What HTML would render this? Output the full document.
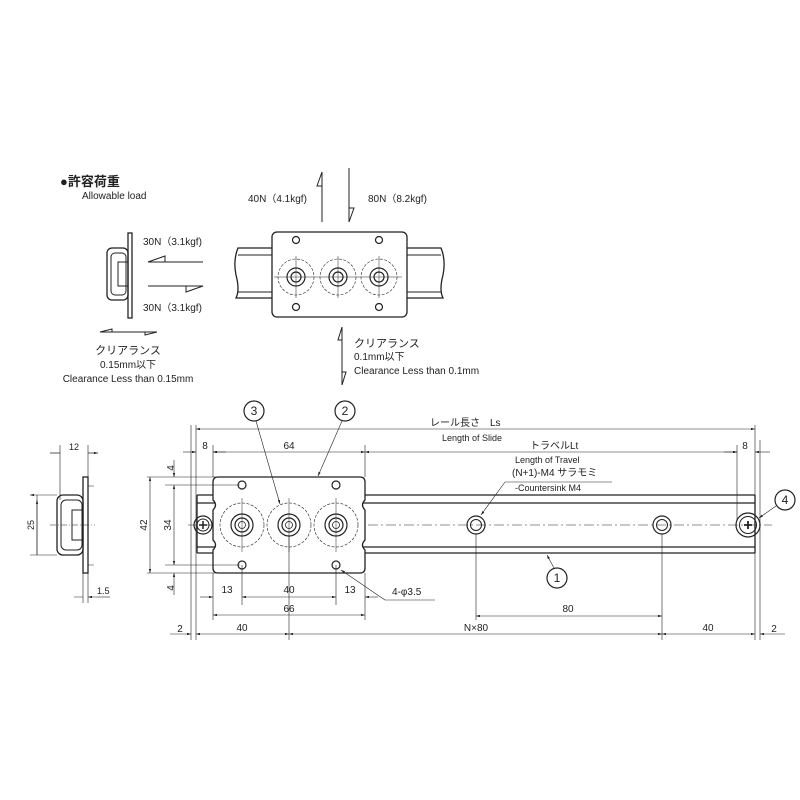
<!DOCTYPE html>
<html><head><meta charset="utf-8"><style>
body{margin:0;background:#fff}
svg{display:block}
text{font-family:"Liberation Sans","Noto Sans CJK JP",sans-serif;fill:#222}
</style></head><body>
<svg width="800" height="800" viewBox="0 0 800 800" xmlns="http://www.w3.org/2000/svg">
<defs>
<marker id="a" viewBox="0 0 10 6" refX="10" refY="3" markerWidth="8" markerHeight="4" orient="auto-start-reverse"><path d="M0,0L10,3L0,6z" fill="#222"/></marker>
</defs>
<g stroke="#222" fill="none" stroke-width="1">
<text x="60" y="186" font-size="13" font-weight="bold" stroke="none">●許容荷重</text>
<text x="82" y="199" font-size="10" stroke="none">Allowable load</text>
<rect x="128" y="233" width="4" height="85" stroke-width="1.3"/>
<rect x="107" y="248" width="21" height="52" rx="5" stroke-width="1.3"/>
<rect x="111" y="253" width="15" height="42" rx="4"/>
<rect x="118" y="262" width="10" height="24"/>
<path d="M203,262H148L165,256V262M148,286H203L186,292V286M157,332H100L112,329V332M100,332H157L145,335V332"/>
<text x="143" y="245" font-size="10" stroke="none">30N（3.1kgf)</text>
<text x="143" y="311" font-size="10" stroke="none">30N（3.1kgf)</text>
<text x="128" y="354" font-size="11" text-anchor="middle" stroke="none">クリアランス</text>
<text x="128" y="368" font-size="10" text-anchor="middle" stroke="none">0.15mm以下</text>
<text x="128" y="382" font-size="10" text-anchor="middle" stroke="none">Clearance Less than 0.15mm</text>
<path d="M272,248H238Q233,260 236,275Q240,290 236,298H272M407,248H441Q446,260 443,275Q439,290 443,298H407" stroke-width="1.3"/>
<path d="M238,255H272M238,292H272M407,255H441M407,292H441"/>
<rect x="272" y="232" width="135" height="85" rx="5" stroke-width="1.3"/>
<g stroke-width="0.6" stroke-dasharray="3,1.5">
<circle cx="296" cy="277" r="18"/><circle cx="338" cy="277" r="18"/><circle cx="379" cy="277" r="18"/></g>
<g stroke-width="1.2">
<circle cx="296" cy="277" r="9"/><circle cx="296" cy="277" r="5"/>
<circle cx="338" cy="277" r="9"/><circle cx="338" cy="277" r="5"/>
<circle cx="379" cy="277" r="9"/><circle cx="379" cy="277" r="5"/>
<circle cx="296" cy="240" r="3.5"/><circle cx="379" cy="240" r="3.5"/>
<circle cx="296" cy="307" r="3.5"/><circle cx="379" cy="307" r="3.5"/></g>
<path d="M274,277H402M296,256V298M338,256V298M379,256V298" stroke-width="0.5"/>
<path d="M322,222V172L317,186H322M349,168V222L354,208H349M342,327V385M342,327L338,340H342M342,385L346,372H342"/>
<text x="248" y="202" font-size="10" stroke="none">40N（4.1kgf)</text>
<text x="368" y="202" font-size="10" stroke="none">80N（8.2kgf)</text>
<text x="354" y="347" font-size="11" stroke="none">クリアランス</text>
<text x="354" y="360" font-size="10" stroke="none">0.1mm以下</text>
<text x="354" y="374" font-size="10" stroke="none">Clearance Less than 0.1mm</text>

<rect x="83" y="477" width="5" height="96" stroke-width="1.3"/>
<rect x="57" y="495" width="26" height="60" rx="6" stroke-width="1.3"/>
<rect x="61" y="500" width="21" height="50" rx="5"/>
<rect x="72" y="510" width="11" height="30"/>
<path d="M60,445V500M88,445V477M50,453H60M98,453H88" stroke-width="0.6"/>
<path d="M60,453H50M88,453H98" marker-end="url(#a)" stroke-width="0.6"/>
<text x="74" y="450" font-size="9" text-anchor="middle" stroke="none">12</text>
<path d="M30,495H57M30,555H57M37,495V555" stroke-width="0.6" marker-start="url(#a)"/>
<path d="M37,555V500" stroke-width="0.6" marker-end="url(#a)"/>
<text x="34" y="525" font-size="9" stroke="none" transform="rotate(-90 34 525)" text-anchor="middle">25</text>
<path d="M83,573V603M88,573V603M74,597H83M97,597H88" stroke-width="0.6" marker-end="url(#a)"/>
<path d="M97,597H110" stroke-width="0.6"/>
<text x="97" y="594" font-size="9" stroke="none">1.5</text>
<path d="M50,525H95M88,486H96M88,565H96" stroke-width="0.5" stroke-dasharray="6,2,1,2"/>

<path d="M197,495H755M197,503H755M197,547H755M197,553H755M197,495V553M755,495V553" stroke-width="1.3"/>
<path d="M188,525H772" stroke-width="0.5" stroke-dasharray="10,3,2,3"/>
<circle cx="203" cy="525" r="9" stroke-width="1.2"/><circle cx="203" cy="525" r="6"/>
<path d="M199,525H207M203,521V529" stroke-width="1.5"/>
<circle cx="476" cy="525" r="9" stroke-width="1.2"/><circle cx="476" cy="525" r="5.5"/>
<circle cx="662" cy="525" r="9" stroke-width="1.2"/><circle cx="662" cy="525" r="5.5"/>
<circle cx="748" cy="525" r="12" stroke-width="1.2"/><circle cx="748" cy="525" r="8.5"/>
<path d="M744,525H752M748,521V529" stroke-width="1.8"/>
<path d="M218,477H360Q365,477 365,482V500Q360,505 365,510V540Q360,545 365,550V568Q365,573 360,573H218Q213,573 213,568V550Q218,545 213,540V510Q218,505 213,500V482Q213,477 218,477Z" fill="#fff" stroke-width="1.3"/>
<g stroke-width="0.6" stroke-dasharray="3,1.5">
<circle cx="242" cy="525" r="22"/><circle cx="289" cy="525" r="22"/><circle cx="336" cy="525" r="22"/></g>
<g stroke-width="1.2">
<circle cx="242" cy="525" r="11"/><circle cx="242" cy="525" r="7"/><circle cx="242" cy="525" r="3.5" stroke-width="0.8"/>
<circle cx="289" cy="525" r="11"/><circle cx="289" cy="525" r="7"/><circle cx="289" cy="525" r="3.5" stroke-width="0.8"/>
<circle cx="336" cy="525" r="11"/><circle cx="336" cy="525" r="7"/><circle cx="336" cy="525" r="3.5" stroke-width="0.8"/>
<circle cx="242" cy="485" r="4"/><circle cx="336" cy="485" r="4"/>
<circle cx="242" cy="565" r="4"/><circle cx="336" cy="565" r="4"/></g>
<path d="M242,498V552M289,498V552M336,498V552" stroke-width="0.5"/>

<g stroke-width="0.6">
<path d="M191,425V640M196,425V640M755,425V640M760,440V640M213,445V477M365,445V477M737,445V520"/>
<path d="M196,429H755" marker-start="url(#a)" marker-end="url(#a)"/>
<path d="M213,452H365" marker-start="url(#a)" marker-end="url(#a)"/>
<path d="M365,452H737" marker-start="url(#a)" marker-end="url(#a)"/>
<path d="M183,452H196" marker-end="url(#a)"/><path d="M226,452H213" marker-end="url(#a)"/>
<path d="M724,452H737" marker-end="url(#a)"/><path d="M770,452H755" marker-end="url(#a)"/>
<path d="M147,477H240M147,573H240M165,485H240M165,565H240"/>
<path d="M150,477V573" marker-start="url(#a)" marker-end="url(#a)"/>
<path d="M174,485V565" marker-start="url(#a)" marker-end="url(#a)"/>
<path d="M174,460V477" marker-end="url(#a)"/><path d="M174,595V573" marker-end="url(#a)"/>
<path d="M213,573V620M365,573V620M242,565V605M336,565V605M289,536V640M476,534V620M662,534V640"/>
<path d="M200,597H213" marker-end="url(#a)"/><path d="M378,597H365" marker-end="url(#a)"/>
<path d="M242,597H336" marker-start="url(#a)" marker-end="url(#a)"/>
<path d="M213,615H365" marker-start="url(#a)" marker-end="url(#a)"/>
<path d="M476,616H662" marker-start="url(#a)" marker-end="url(#a)"/>
<path d="M196,634H289" marker-start="url(#a)" marker-end="url(#a)"/>
<path d="M289,634H662" marker-start="url(#a)" marker-end="url(#a)"/>
<path d="M662,634H755" marker-start="url(#a)" marker-end="url(#a)"/>
<path d="M170,634H191" marker-end="url(#a)"/><path d="M785,634H760" marker-end="url(#a)"/>
<path d="M505,482H612"/><path d="M505,482L481,515" marker-end="url(#a)"/>
<path d="M435,600H385"/><path d="M385,600L341,570" marker-end="url(#a)"/>
<path d="M256,421L280,504" marker-end="url(#a)"/>
<path d="M342,421L318,476" marker-end="url(#a)"/>
<path d="M554,568L547,555" marker-end="url(#a)"/>
<path d="M776,506L759,518" marker-end="url(#a)"/>
</g>
<g stroke-width="1.2"><circle cx="254" cy="411" r="10"/><circle cx="345" cy="411" r="10"/><circle cx="557" cy="578" r="10"/><circle cx="785" cy="500" r="10"/></g>
<g stroke="none" font-size="10">
<text x="254" y="415" text-anchor="middle" font-size="12">3</text>
<text x="345" y="415" text-anchor="middle" font-size="12">2</text>
<text x="557" y="582" text-anchor="middle" font-size="12">1</text>
<text x="785" y="504" text-anchor="middle" font-size="12">4</text>
<text x="430" y="426">レール長さ　Ls</text>
<text x="442" y="441" font-size="9">Length of Slide</text>
<text x="530" y="449">トラベルLt</text>
<text x="515" y="463" font-size="9">Length of Travel</text>
<text x="512" y="476">(N+1)-M4 サラモミ</text>
<text x="515" y="491" font-size="9">-Countersink M4</text>
<text x="205" y="449" text-anchor="middle">8</text>
<text x="289" y="449" text-anchor="middle">64</text>
<text x="745" y="449" text-anchor="middle">8</text>
<text x="174" y="468" text-anchor="middle" transform="rotate(-90 174 468)">4</text>
<text x="174" y="588" text-anchor="middle" transform="rotate(-90 174 588)">4</text>
<text x="147" y="525" text-anchor="middle" transform="rotate(-90 147 525)">42</text>
<text x="171" y="525" text-anchor="middle" transform="rotate(-90 171 525)">34</text>
<text x="227" y="593" text-anchor="middle">13</text>
<text x="289" y="593" text-anchor="middle">40</text>
<text x="350" y="593" text-anchor="middle">13</text>
<text x="392" y="595">4-φ3.5</text>
<text x="289" y="612" text-anchor="middle">66</text>
<text x="568" y="612" text-anchor="middle">80</text>
<text x="180" y="632" text-anchor="middle">2</text>
<text x="242" y="631" text-anchor="middle">40</text>
<text x="476" y="631" text-anchor="middle">N×80</text>
<text x="708" y="631" text-anchor="middle">40</text>
<text x="774" y="632" text-anchor="middle">2</text>
</g>
</g>
</svg>
</body></html>
